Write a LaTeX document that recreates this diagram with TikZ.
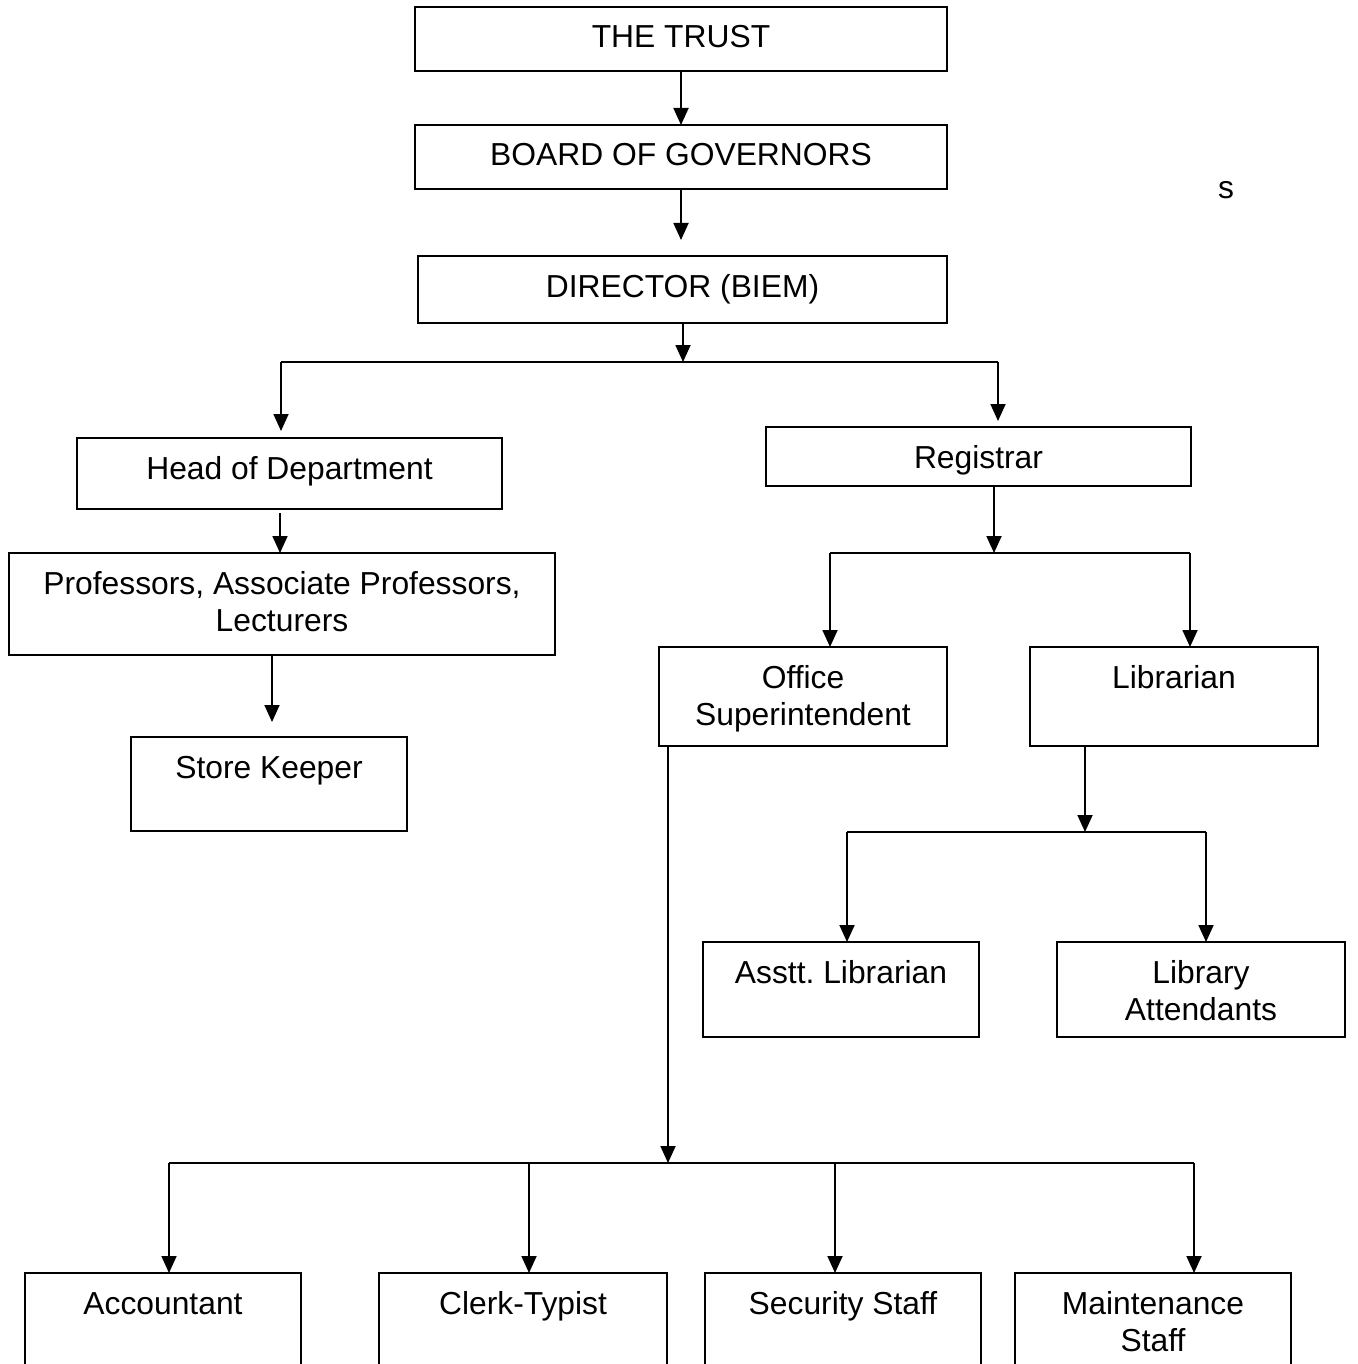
\documentclass[tikz,border=0pt]{standalone}
\usepackage{fontspec}
\setmainfont{Liberation Sans}
\usetikzlibrary{arrows.meta}
\frenchspacing
\tikzset{
  orgbox/.style={draw, line width=1.8pt, inner sep=0pt, outer sep=0pt, anchor=north west},
  conn/.style={line width=1.8pt},
  arr/.style={conn, -{Triangle[length=17pt, width=15pt]}},
  every node/.style={font=\fontsize{31.8}{37.5}\selectfont}
}
\newcommand\orgnode[6]{\node[orgbox] (#1) at (#2,#3) {\parbox[t][#5pt][t]{#4pt}{\centering\rule{0pt}{41pt}#6}};}
\begin{document}
\begin{tikzpicture}[x=1pt, y=-1pt]
\clip (0,0) rectangle (1357,1364);
\fill[white] (0,0) rectangle (1357,1364);

% boxes
\orgnode{trust}{415}{7}{532}{64}{THE TRUST}
\orgnode{board}{415}{125}{532}{64}{BOARD OF GOVERNORS}
\orgnode{dir}{418}{256}{529}{67}{DIRECTOR (BIEM)}
\orgnode{hod}{77}{438}{425}{71}{Head of Department}
\orgnode{prof}{9}{553}{546}{102}{Professors, Associate Professors,\\Lecturers}
\orgnode{store}{131}{737}{276}{94}{Store Keeper}
\orgnode{reg}{766}{427}{425}{59}{Registrar}
\orgnode{off}{659}{647}{288}{99}{Office\\Superintendent}
\orgnode{lib}{1030}{647}{288}{99}{Librarian}
\orgnode{asst}{703}{942}{276}{95}{Asstt. Librarian}
\orgnode{libatt}{1057}{942}{288}{95}{Library\\Attendants}
\orgnode{acc}{25}{1273}{276}{140}{Accountant}
\orgnode{clerk}{379}{1273}{288}{140}{Clerk-Typist}
\orgnode{sec}{705}{1273}{276}{140}{Security Staff}
\orgnode{maint}{1015}{1273}{276}{140}{Maintenance\\Staff}

\node (s) at (1226,190) {s};

% bus coordinates
\coordinate (b1) at (683,362);
\coordinate (b1l) at (281,362);
\coordinate (b1r) at (998,362);
\coordinate (xhp) at (280,513);
\coordinate (xps) at (272,0);
\coordinate (b2) at (994,553);
\coordinate (b2l) at (830,553);
\coordinate (b2r) at (1190,553);
\coordinate (b3) at (1085,832);
\coordinate (b3l) at (847,832);
\coordinate (b3r) at (1206,832);
\coordinate (b4) at (668,1163);
\coordinate (b4l) at (169,1163);
\coordinate (b4r) at (1194,1163);
\coordinate (x529) at (529,1163);
\coordinate (x835) at (835,1163);

% connectors
\draw[arr] (trust.south) -- (board.north);
\draw[arr, shorten >=16pt] (board.south) -- (board.south |- dir.north);
\draw[arr] (dir.south -| b1) -- (b1);
\draw[conn] (b1l) -- (b1r);
\draw[arr, shorten >=7pt] (b1l) -- (b1l |- hod.north);
\draw[arr, shorten >=6pt] (b1r) -- (b1r |- reg.north);
\draw[arr] (xhp) -- (xhp |- prof.north);
\draw[arr, shorten >=15pt] (prof.south -| xps) -- (store.north -| xps);

\draw[arr] (reg.south -| b2) -- (b2);
\draw[conn] (b2l) -- (b2r);
\draw[arr] (b2l) -- (b2l |- off.north);
\draw[arr] (b2r) -- (b2r |- lib.north);

\draw[arr] (lib.south -| b3) -- (b3);
\draw[conn] (b3l) -- (b3r);
\draw[arr] (b3l) -- (b3l |- asst.north);
\draw[arr] (b3r) -- (b3r |- libatt.north);

\draw[arr] (off.south -| b4) -- (b4);
\draw[conn] (b4l) -- (b4r);
\draw[arr] (b4l) -- (b4l |- acc.north);
\draw[arr] (x529) -- (x529 |- clerk.north);
\draw[arr] (x835) -- (x835 |- sec.north);
\draw[arr] (b4r) -- (b4r |- maint.north);
\end{tikzpicture}
\end{document}
